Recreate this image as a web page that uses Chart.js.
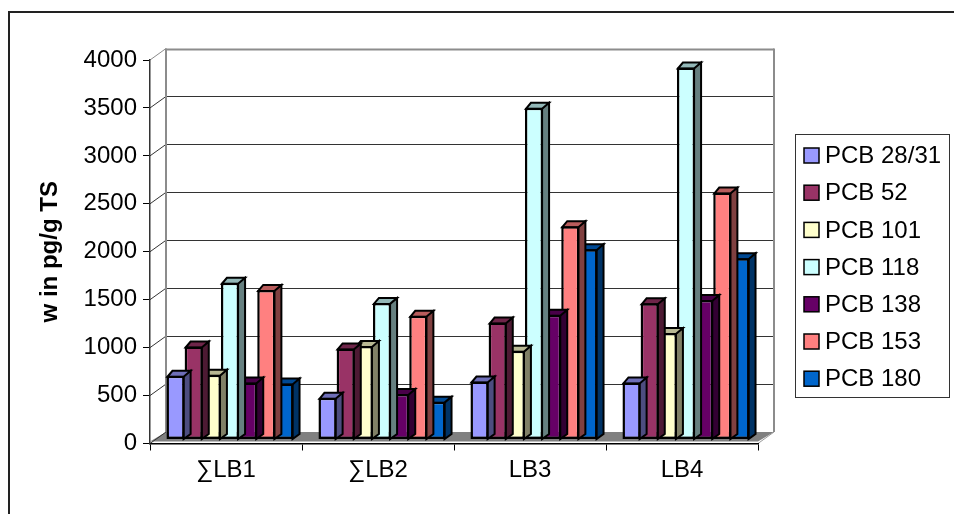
<!DOCTYPE html>
<html>
<head>
<meta charset="utf-8">
<script src="https://cdn.jsdelivr.net/npm/chart.js@4.4.1/dist/chart.umd.min.js"></script>
<style>
  html, body { margin: 0; padding: 0; background: #ffffff; }
  #wrap { width: 954px; height: 514px; }
</style>
</head>
<body>
<div id="wrap"><canvas id="c" width="954" height="514"></canvas></div>
<script>
// ---- data ----
const categories = ['\u2211LB1', '\u2211LB2', 'LB3', 'LB4'];
const seriesNames = ['PCB 28/31', 'PCB 52', 'PCB 101', 'PCB 118', 'PCB 138', 'PCB 153', 'PCB 180'];
const pcb28_31 = [665, 435, 605, 595];
const pcb52    = [970, 950, 1220, 1420];
const pcb101   = [675, 975, 925, 1110];
const pcb118   = [1635, 1425, 3460, 3880];
const pcb138   = [595, 475, 1300, 1455];
const pcb153   = [1560, 1290, 2225, 2575];
const pcb180   = [585, 395, 1985, 1890];
const seriesValues = [pcb28_31, pcb52, pcb101, pcb118, pcb138, pcb153, pcb180];
const seriesColors = ['#9999FF', '#993366', '#FFFFCC', '#CCFFFF', '#660066', '#FF8080', '#0066CC'];
const yMin = 0, yMax = 4000, yStep = 500;
const yTitle = 'w in pg/g TS';

// ---- geometry / style ----
const FONT = '"Liberation Sans", Arial, sans-serif';
const WALL_DX = 16, WALL_DY = -11.5;   // back wall offset
const BAR_OX = 4, BAR_OY = -4;         // bar plane offset
const BAR_DX = 6, BAR_DY = -5;         // bar depth

function shade(hex, f) {
  const n = parseInt(hex.slice(1), 16);
  const r = Math.round(((n >> 16) & 255) * f);
  const g = Math.round(((n >> 8) & 255) * f);
  const b = Math.round((n & 255) * f);
  return 'rgb(' + r + ',' + g + ',' + b + ')';
}

const scenePlugin = {
  id: 'scene',
  beforeDraw(chart) {
    const ctx = chart.ctx;
    const area = chart.chartArea;
    const ys = chart.scales.y;
    ctx.save();
    ctx.fillStyle = '#ffffff';
    ctx.fillRect(0, 0, chart.width, chart.height);
    // outer chart border
    ctx.strokeStyle = '#222';
    ctx.lineWidth = 2;
    ctx.strokeRect(9, 12, chart.width + 20, chart.height + 20);

    const y0 = ys.getPixelForValue(yMin);
    const yTop = ys.getPixelForValue(yMax);
    // floor
    ctx.fillStyle = '#808080';
    ctx.beginPath();
    ctx.moveTo(area.left, y0 - 2);
    ctx.lineTo(area.right, y0 - 2);
    ctx.lineTo(area.right + WALL_DX, y0 + WALL_DY);
    ctx.lineTo(area.left + WALL_DX, y0 + WALL_DY);
    ctx.closePath();
    ctx.fill();

    // gridlines on back wall and side wall
    ys.ticks.forEach(t => {
      const yf = ys.getPixelForValue(t.value);
      const yb = yf + WALL_DY;
      const isTop = t.value === yMax;
      ctx.strokeStyle = isTop ? '#8c8c8c' : '#333';
      ctx.lineWidth = isTop ? 2 : 1;
      if (t.value !== yMin) {
        ctx.beginPath();
        ctx.moveTo(area.left + WALL_DX, Math.round(yb) + 0.5);
        ctx.lineTo(area.right + WALL_DX, Math.round(yb) + 0.5);
        ctx.stroke();
      }
      ctx.strokeStyle = isTop ? '#8c8c8c' : '#333';
      ctx.lineWidth = 1;
      ctx.beginPath();
      ctx.moveTo(area.left, yf);
      ctx.lineTo(area.left + WALL_DX, yb);
      ctx.stroke();
    });
    // wall edges
    ctx.strokeStyle = '#8c8c8c';
    ctx.lineWidth = 2;
    ctx.beginPath();
    ctx.moveTo(area.left + WALL_DX, yTop + WALL_DY);
    ctx.lineTo(area.left + WALL_DX, y0 + WALL_DY);
    ctx.moveTo(area.right + WALL_DX, yTop + WALL_DY);
    ctx.lineTo(area.right + WALL_DX, y0 + WALL_DY);
    ctx.stroke();
    // floor right edge
    ctx.strokeStyle = '#9a9a9a';
    ctx.lineWidth = 1;
    ctx.beginPath();
    ctx.moveTo(area.right, y0);
    ctx.lineTo(area.right + WALL_DX, y0 + WALL_DY);
    ctx.stroke();
    ctx.restore();
  },
  beforeDatasetsDraw(chart) {
    chart.ctx.save();
    chart.ctx.translate(BAR_OX, BAR_OY);
  },
  beforeDatasetDraw(chart, args) {
    const ctx = chart.ctx;
    const meta = args.meta;
    const color = seriesColors[args.index];
    meta.data.forEach(el => {
      const p = el.getProps(['x', 'y', 'base', 'width'], true);
      const l = p.x - p.width / 2, r = p.x + p.width / 2;
      const top = Math.min(p.y, p.base), bot = Math.max(p.y, p.base);
      ctx.save();
      ctx.lineJoin = 'miter';
      ctx.strokeStyle = '#000';
      ctx.lineWidth = 2;
      // side face
      ctx.fillStyle = shade(color, 0.5);
      ctx.beginPath();
      ctx.moveTo(r - 1, top);
      ctx.lineTo(r + BAR_DX, top + BAR_DY);
      ctx.lineTo(r + BAR_DX, bot + BAR_DY);
      ctx.lineTo(r - 1, bot);
      ctx.closePath();
      ctx.fill();
      ctx.stroke();
      // top face
      ctx.fillStyle = shade(color, 0.72);
      ctx.beginPath();
      ctx.moveTo(l + 1, top + 1);
      ctx.lineTo(l + BAR_DX, top + BAR_DY);
      ctx.lineTo(r + BAR_DX, top + BAR_DY);
      ctx.lineTo(r - 1, top + 1);
      ctx.closePath();
      ctx.fill();
      ctx.stroke();
      ctx.restore();
    });
  },
  afterDatasetsDraw(chart) {
    chart.ctx.restore();
  },
  afterDraw(chart) {
    // legend
    const ctx = chart.ctx;
    ctx.save();
    ctx.strokeStyle = '#333';
    ctx.lineWidth = 1;
    ctx.fillStyle = '#ffffff';
    ctx.fillRect(795, 134, 154, 263);
    ctx.strokeRect(795.5, 134.5, 154, 263);
    ctx.font = '24px ' + FONT;
    ctx.textBaseline = 'middle';
    ctx.textAlign = 'left';
    chart.data.datasets.forEach((ds, i) => {
      const cy = 155.5 + i * 37.2;
      ctx.fillStyle = ds.backgroundColor;
      ctx.fillRect(804, cy - 7.5, 15, 15);
      ctx.strokeStyle = '#000';
      ctx.lineWidth = 1.5;
      ctx.strokeRect(804, cy - 7.5, 15, 15);
      ctx.fillStyle = '#000';
      ctx.fillText(ds.label, 825, cy + 1);
    });
    ctx.restore();
  }
};

const datasets = seriesNames.map((name, i) => ({
  label: name,
  data: seriesValues[i],
  backgroundColor: seriesColors[i],
  borderColor: '#000000',
  borderWidth: 2.5,
  borderSkipped: false,
  categoryPercentage: 0.836,
  barPercentage: 1.0,
  clip: false
}));

new Chart(document.getElementById('c'), {
  type: 'bar',
  data: { labels: categories, datasets },
  plugins: [scenePlugin],
  options: {
    responsive: false,
    animation: false,
    events: [],
    layout: { padding: { left: 0, top: 60, right: 196, bottom: 0 } },
    plugins: { legend: { display: false }, tooltip: { enabled: false } },
    scales: {
      x: {
        type: 'category',
        grid: { display: true, offset: true, drawOnChartArea: false, drawTicks: true, tickLength: 7, color: '#000', lineWidth: 1 },
        border: { display: true, color: '#000', width: 1.5 },
        ticks: { color: '#000', font: { family: FONT, size: 24 }, padding: 5, maxRotation: 0, autoSkip: false },
        afterFit(scale) { scale.height = 514 - 443.5; }
      },
      y: {
        min: yMin, max: yMax,
        grid: { display: true, drawOnChartArea: false, drawTicks: true, tickLength: 7, color: '#000', lineWidth: 1 },
        border: { display: true, color: '#333', width: 1.5 },
        ticks: { stepSize: yStep, color: '#000', font: { family: FONT, size: 24 }, padding: 6,
                 callback: (v) => String(v) },
        title: { display: true, text: yTitle, color: '#000', font: { family: FONT, size: 24, weight: 'bold' }, padding: { top: 36, bottom: 0 } },
        afterFit(scale) { scale.width = 150; }
      }
    }
  }
});
</script>
</body>
</html>
